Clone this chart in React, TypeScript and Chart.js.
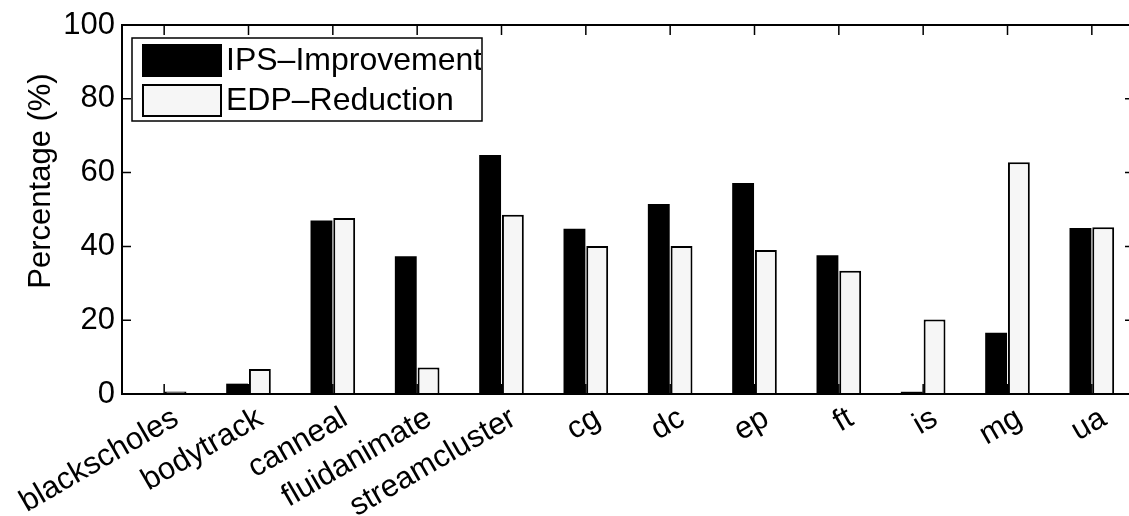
import React, { useEffect, useRef } from "react";
import { Chart, registerables } from "chart.js";

Chart.register(...registerables);

const categories = [
  "blackscholes",
  "bodytrack",
  "canneal",
  "fluidanimate",
  "streamcluster",
  "cg",
  "dc",
  "ep",
  "ft",
  "is",
  "mg",
  "ua",
];
const ipsImprovement = [0, 2.8, 47.0, 37.3, 64.8, 44.8, 51.5, 57.2, 37.6, 0.6, 16.6, 45.0];
const edpReduction = [0.7, 6.8, 47.7, 7.2, 48.6, 40.1, 40.1, 39.0, 33.4, 20.2, 62.8, 45.2];
const seriesLabels = ["IPS–Improvement", "EDP–Reduction"];
const yTicks = [0, 20, 40, 60, 80, 100];
const yTitle = "Percentage (%)";

const FONT = "'Liberation Sans', Arial, Helvetica, sans-serif";

const framePlugin = {
  id: "matlabFrame",
  beforeDatasetsDraw(chart: any) {
    const { ctx, chartArea } = chart;
    const xs = chart.scales.x;
    const ys = chart.scales.y;
    ctx.save();
    ctx.strokeStyle = "#000";
    ctx.lineWidth = 1.5;
    ctx.beginPath();
    yTicks.forEach((v) => {
      const py = ys.getPixelForValue(v);
      ctx.moveTo(chartArea.left, py);
      ctx.lineTo(chartArea.left + 9, py);
      ctx.moveTo(chartArea.right, py);
      ctx.lineTo(chartArea.right - 9, py);
    });
    categories.forEach((_, i) => {
      const px = xs.getPixelForTick(i);
      ctx.moveTo(px, chartArea.top);
      ctx.lineTo(px, chartArea.top + 10);
      ctx.moveTo(px, chartArea.bottom);
      ctx.lineTo(px, chartArea.bottom - 10);
    });
    ctx.stroke();
    ctx.restore();
  },
  afterDatasetsDraw(chart: any) {
    const { ctx, chartArea } = chart;
    ctx.save();
    ctx.strokeStyle = "#000";
    ctx.lineWidth = 2;
    ctx.strokeRect(
      chartArea.left,
      chartArea.top,
      chartArea.right - chartArea.left,
      chartArea.bottom - chartArea.top
    );
    ctx.restore();
  },
  afterDraw(chart: any) {
    const { ctx, chartArea } = chart;
    // y-axis title
    ctx.save();
    ctx.fillStyle = "#000";
    ctx.font = `31px ${FONT}`;
    ctx.textAlign = "center";
    ctx.textBaseline = "alphabetic";
    ctx.translate(50, 181);
    ctx.rotate(-Math.PI / 2);
    ctx.fillText(yTitle, 0, 0);
    ctx.restore();

    // legend box inside plot
    const bx = chartArea.left + 10;
    const by = chartArea.top + 13;
    const bw = 350;
    const bh = 83;
    ctx.save();
    ctx.fillStyle = "#fff";
    ctx.fillRect(bx, by, bw, bh);
    ctx.strokeStyle = "#000";
    ctx.lineWidth = 1.5;
    ctx.strokeRect(bx, by, bw, bh);
    ctx.beginPath();
    ctx.rect(bx, by, bw - 1, bh);
    ctx.clip();
    const ds = chart.data.datasets;
    ds.forEach((d: any, i: number) => {
      const sy = by + 7 + i * 40;
      ctx.fillStyle = d.backgroundColor;
      ctx.fillRect(bx + 11, sy, 78, 31);
      ctx.lineWidth = 2;
      ctx.strokeStyle = "#000";
      ctx.strokeRect(bx + 11, sy, 78, 31);
      ctx.fillStyle = "#000";
      ctx.font = `32px ${FONT}`;
      ctx.textAlign = "left";
      ctx.textBaseline = "middle";
      ctx.fillText(d.label, bx + 94, sy + 16);
    });
    ctx.restore();
  },
};

export default function App() {
  const ref = useRef<HTMLCanvasElement | null>(null);

  useEffect(() => {
    document.body.style.margin = "0";
    const canvas = ref.current;
    if (!canvas) return;
    const chart = new Chart(canvas, {
      type: "bar",
      data: {
        labels: categories,
        datasets: [
          {
            label: seriesLabels[0],
            data: ipsImprovement,
            backgroundColor: "#000000",
            borderColor: "#000000",
            borderWidth: 0,
          },
          {
            label: seriesLabels[1],
            data: edpReduction,
            backgroundColor: "#f6f6f6",
            borderColor: "#000000",
            borderWidth: 2,
          },
        ],
      },
      options: {
        responsive: false,
        animation: false,
        devicePixelRatio: 1,
        datasets: {
          bar: {
            categoryPercentage: 0.54,
            barPercentage: 0.96,
          },
        },
        layout: { padding: { left: 0, top: 25, right: 16, bottom: 0 } },
        plugins: {
          legend: { display: false },
          tooltip: { enabled: false },
          title: { display: false },
        },
        scales: {
          x: {
            grid: { display: false, drawTicks: false },
            border: { display: false },
            ticks: {
              autoSkip: false,
              minRotation: 30,
              maxRotation: 30,
              color: "#000",
              font: { family: FONT, size: 31 },
              padding: 6,
              labelOffset: 12,
            },
            afterFit(scale: any) {
              scale.height = 122;
              scale.paddingLeft = 0;
              scale.paddingRight = 0;
              scale.paddingTop = 0;
              scale.paddingBottom = 0;
            },
          },
          y: {
            min: 0,
            max: 100,
            grid: { display: false, drawTicks: false },
            border: { display: false },
            afterBuildTicks(scale: any) {
              scale.ticks = yTicks.map((v) => ({ value: v }));
            },
            ticks: {
              color: "#000",
              font: { family: FONT, size: 31 },
              padding: 7,
            },
            afterFit(scale: any) {
              scale.width = 122;
              scale.paddingTop = 0;
              scale.paddingBottom = 0;
            },
          },
        },
      },
      plugins: [framePlugin],
    });
    return () => chart.destroy();
  }, []);

  return (
    <div
      style={{
        position: "absolute",
        left: 0,
        top: 0,
        width: 1129,
        height: 516,
        overflow: "hidden",
        background: "#fff",
      }}
    >
      <canvas ref={ref} width={1150} height={516} style={{ width: 1150, height: 516, display: "block" }} />
    </div>
  );
}
